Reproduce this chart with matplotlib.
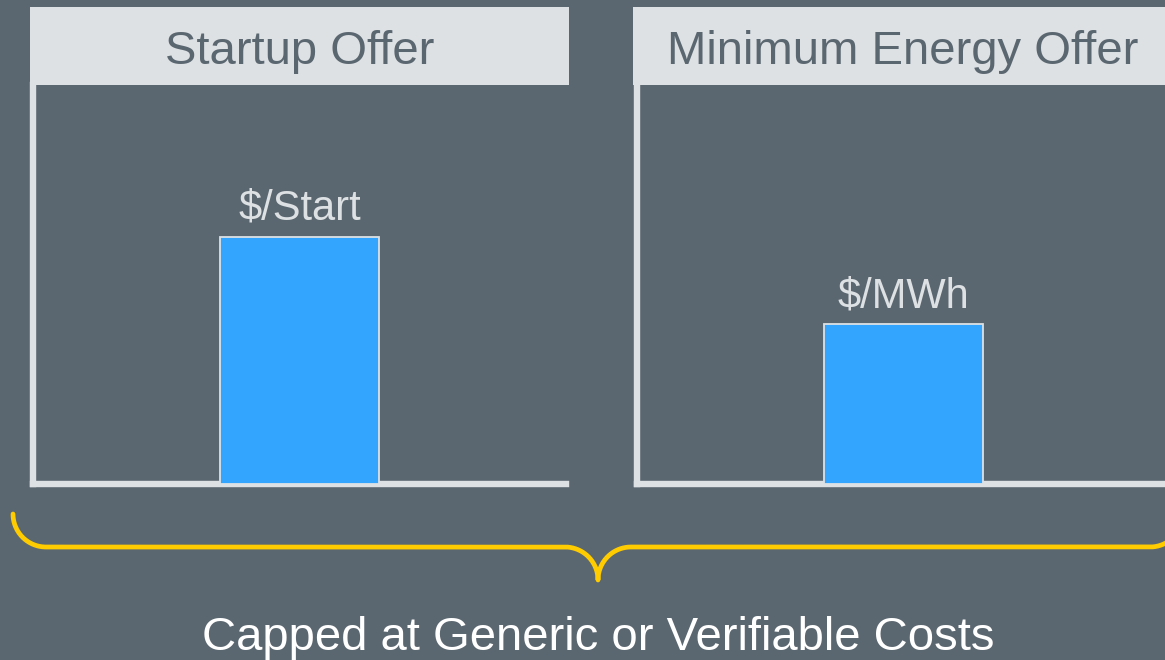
import numpy as np
import matplotlib
matplotlib.use("Agg")
import matplotlib.pyplot as plt
from matplotlib.patches import Rectangle

# ---- data ----
panel_titles = ["Startup Offer", "Minimum Energy Offer"]
bar_values = [0.62, 0.40]
bar_labels = ["$/Start", "$/MWh"]
caption = "Capped at Generic or Verifiable Costs"

BG = "#5B6770"
LIGHT = "#DDE1E4"
BLUE = "#33A5FF"
YELLOW = "#FFCC00"
FONT = "Liberation Sans"

W, H = 1165, 660
fig = plt.figure(figsize=(W / 100, H / 100), dpi=100)
fig.patch.set_facecolor(BG)

def fx(x):
    return x / W

def fy(y):
    return 1 - y / H

# overlay in pixel coordinates for decorations
ov = fig.add_axes([0, 0, 1, 1], zorder=0)
ov.set_xlim(0, W)
ov.set_ylim(H, 0)
ov.axis("off")
ov.patch.set_alpha(0)

panel_lefts = [33, 637]
header_lefts = [30, 633]
panel_w = 533
top_y, bot_y = 85, 484

for i, (title, val, lab) in enumerate(zip(panel_titles, bar_values, bar_labels)):
    hl = header_lefts[i]
    ov.add_patch(Rectangle((hl, 7), 539, 78, facecolor=LIGHT, edgecolor="none", zorder=1))
    ov.text(hl + 539 / 2, 64, title, ha="center", va="baseline", fontsize=34,
            color=BG, family=FONT, zorder=2)

    ax = fig.add_axes([fx(panel_lefts[i]), fy(bot_y), panel_w / W, (bot_y - top_y) / H], zorder=2)
    ax.set_facecolor("none")
    ax.set_xlim(0, 1)
    ax.set_ylim(0, 1)
    for s in ["top", "right"]:
        ax.spines[s].set_visible(False)
    for s in ["left", "bottom"]:
        ax.spines[s].set_color(LIGHT)
        ax.spines[s].set_linewidth(4.6)
    ax.set_xticks([])
    ax.set_yticks([])
    ax.bar([0.5], [val], width=0.3, color=BLUE, edgecolor=LIGHT, linewidth=1.3, zorder=3)
    ax.annotate(lab, xy=(0.5, val), xytext=(0, 12), textcoords="offset points",
                ha="center", va="baseline", fontsize=30, color=LIGHT, family=FONT)

# brace
cx = 598
r = 33
y1 = 547

def arc(xc, yc, a0, a1, n=40):
    t = np.linspace(np.radians(a0), np.radians(a1), n)
    return np.column_stack([xc + r * np.cos(t), yc + r * np.sin(t)])

left_end = 13
right_end = 2 * cx - left_end
pts = [
    arc(left_end + r, y1 - r, 180, 90),
    np.array([[left_end + r, y1], [cx - r, y1]]),
    arc(cx - r, y1 + r, -90, 0),
    arc(cx + r, y1 + r, 180, 270),
    np.array([[cx + r, y1], [right_end - r, y1]]),
    arc(right_end - r, y1 - r, 90, 0),
]
verts = np.vstack(pts)
ov.plot(verts[:, 0], verts[:, 1], color=YELLOW, lw=3.4, solid_capstyle="round",
        solid_joinstyle="round", zorder=2)

ov.text(cx, 650, caption, ha="center", va="baseline", fontsize=34, color="white", family=FONT)

fig.savefig("out.png", dpi=100, facecolor=BG)
